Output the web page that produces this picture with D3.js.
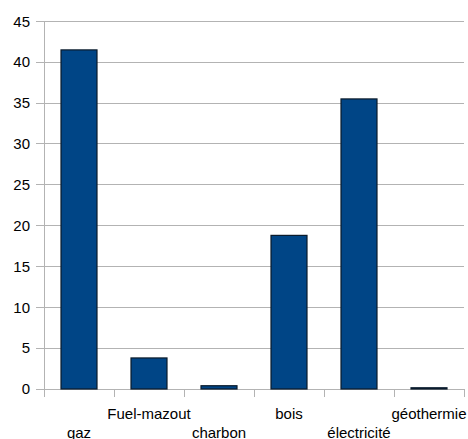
<!DOCTYPE html>
<html><head><meta charset="utf-8">
<script src="https://cdn.jsdelivr.net/npm/d3@7"></script>
<style>body{margin:0;background:#fff}svg{display:block}text{font-family:"Liberation Sans",Arial,sans-serif;font-size:15px;fill:#000}</style>
</head><body><svg id="c" width="468" height="439"></svg>
<script>
const categories = ["gaz","Fuel-mazout","charbon","bois","électricité","géothermie"];
const values = [41.5, 3.8, 0.4, 18.8, 35.5, 0.15];
const yTicks = [0,5,10,15,20,25,30,35,40,45];

const svg = d3.select("#c");
const pLeft = 44, pRight = 464, pTop = 21.3, pBottom = 389;
const x = d3.scaleBand().domain(categories).range([pLeft, pRight]).paddingInner(0.486).paddingOuter(0.243);
const y = d3.scaleLinear().domain([0,45]).range([pBottom, pTop]);

// gridlines
svg.append("g").selectAll("line").data(yTicks).join("line")
  .attr("x1", pLeft - 8).attr("x2", pRight).attr("y1", d=>y(d)).attr("y2", d=>y(d))
  .attr("stroke", "#b3b3b3").attr("stroke-width", 1).attr("shape-rendering","crispEdges");

// y axis line
svg.append("line").attr("x1", pLeft).attr("x2", pLeft).attr("y1", y(45)).attr("y2", pBottom + 8)
  .attr("stroke", "#b3b3b3").attr("shape-rendering","crispEdges");

// x tick marks at band boundaries
const bounds = d3.range(categories.length + 1).map(i => pLeft + i * (pRight - pLeft) / categories.length);
svg.append("g").selectAll("line").data(bounds).join("line")
  .attr("x1", d=>d).attr("x2", d=>d).attr("y1", pBottom).attr("y2", pBottom + 8)
  .attr("stroke", "#b3b3b3").attr("shape-rendering","crispEdges");

// y labels
svg.append("g").selectAll("text").data(yTicks).join("text")
  .attr("x", 30).attr("y", d=>y(d)).attr("dy", "0.35em").attr("text-anchor","end").text(d=>d);

// bars
svg.append("g").selectAll("rect").data(values).join("rect")
  .attr("x", (d,i)=>x(categories[i]))
  .attr("y", d=>y(d))
  .attr("width", x.bandwidth())
  .attr("height", d=>pBottom - y(d))
  .attr("fill", "#004586").attr("stroke", "#0a1a2a").attr("stroke-width", 1.2);

// x labels staggered
svg.append("g").selectAll("text").data(categories).join("text")
  .attr("x", d=>x(d) + x.bandwidth()/2)
  .attr("y", (d,i)=> i % 2 === 0 ? 437.5 : 418.5)
  .attr("text-anchor","middle").text(d=>d);
</script></body></html>
